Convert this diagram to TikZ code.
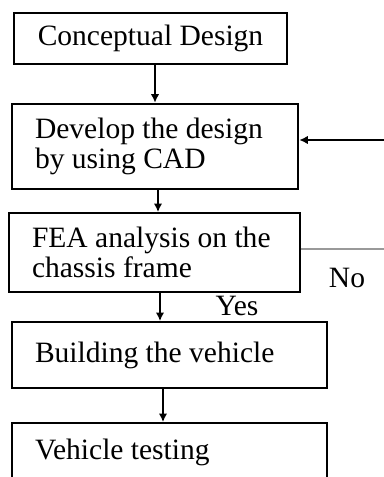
\documentclass[tikz,border=0pt]{standalone}
\usepackage{fontspec}
\setmainfont{Liberation Serif}
\usepackage{tikz}
\usetikzlibrary{arrows.meta, calc, positioning}

\tikzset{
    stage/.style={draw, line width=1.1pt, inner xsep=0.46cm, inner ysep=0pt,
        align=flush left, font=\fontsize{16.8}{17}\selectfont},
    flow/.style={-{Latex[length=0.17cm, width=0.17cm]}, line width=1.1pt},
    tag/.style={font=\fontsize{16.8}{17}\selectfont}
}

\begin{document}
\begin{tikzpicture}[x=0.02cm, y=-0.02cm]
    \useasboundingbox (0, 0) rectangle (384, 477);
    \clip (0, 0) rectangle (384, 477);

    % process steps
    \node[stage, align=center, minimum width=5.46cm, minimum height=1.02cm] (concept) at (150.5, 38.5) {Conceptual Design};
    \node[stage, line width=1.5pt, text width=4.8cm, minimum height=1.7cm] (cad) at (155, 146.5) {Develop the design\\by using CAD};
    \node[stage, text width=4.9cm, minimum height=1.58cm] (fea) at (154.5, 252.5) {FEA analysis on the\\chassis frame};
    \node[stage, text width=5.38cm, minimum height=1.32cm] (build) at (169.5, 355) {Building the vehicle};
    \node[stage, text width=5.38cm, minimum height=1.16cm] (test) at (169.5, 452) {Vehicle testing};

    % feedback ends leaving the frame
    \coordinate (loopin) at (390, 140);
    \coordinate (loopout) at (390, 249);

    \draw[flow] (concept.south -| cad.north) -- (cad.north);
    \draw[flow] ([xshift=0.06cm]cad.south) -- ([xshift=0.06cm]cad.south |- fea.north);
    \draw[flow] ([xshift=0.11cm]fea.south) -- ([xshift=0.11cm]fea.south |- build.north);
    \draw[flow] ([xshift=-0.13cm]build.south) -- ([xshift=-0.13cm]build.south |- test.north);
    \draw[flow] (loopin) -- (cad.east |- loopin);
    \draw[gray!80, line width=0.6pt] (fea.east |- loopout) -- (loopout);

    \node[tag] (no) at (347, 278) {No};
    \node[tag] (yes) at (237, 306) {Yes};
\end{tikzpicture}
\end{document}
